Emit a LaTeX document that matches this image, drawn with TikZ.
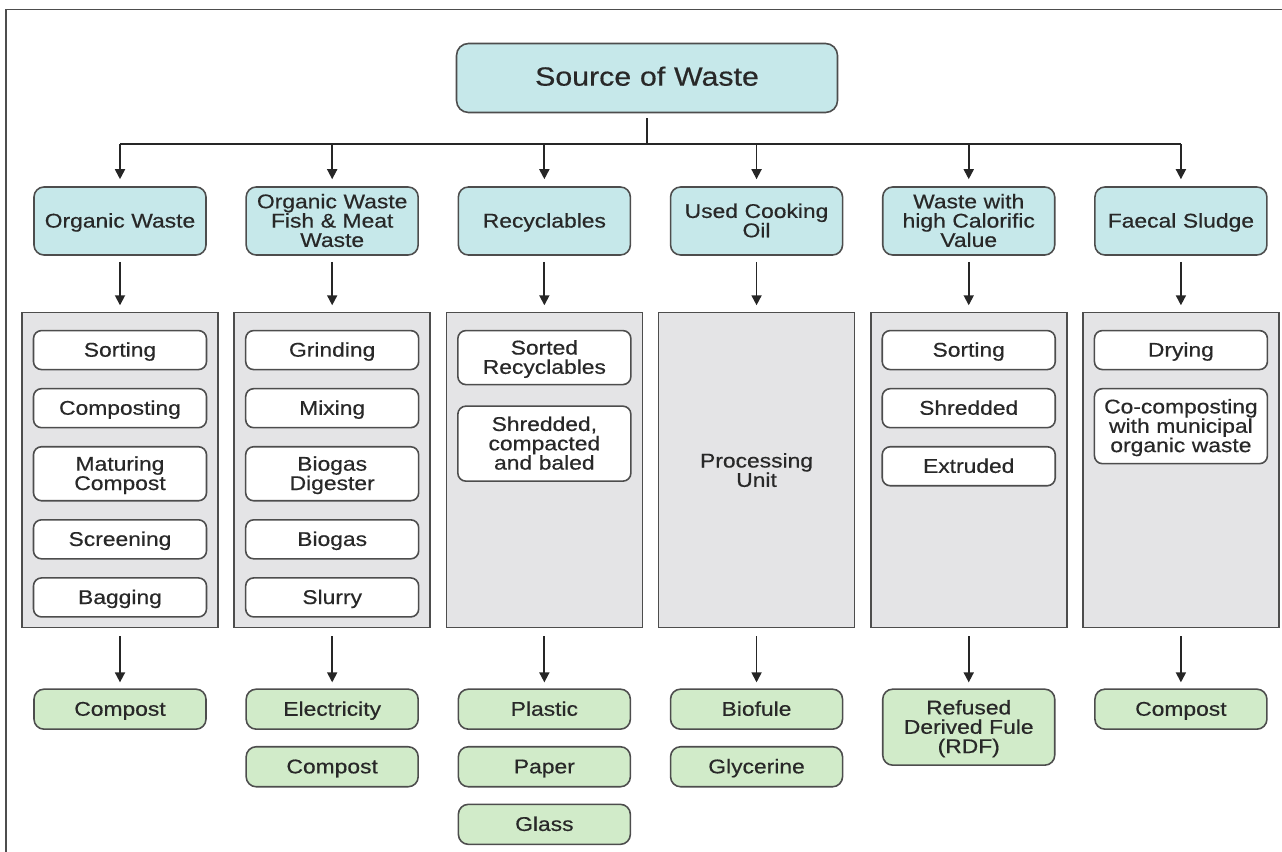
\documentclass[tikz,border=0pt]{standalone}
\usepackage{fontspec}
\setmainfont[FakeStretch=1.15,FakeBold=0.5]{Liberation Sans}
\usepackage{tikz}
\usetikzlibrary{positioning,arrows.meta,calc}
\definecolor{sourcecyan}{RGB}{198,232,234}
\definecolor{panelgray}{RGB}{228,228,230}
\definecolor{productgreen}{RGB}{209,235,201}
\definecolor{edgegray}{RGB}{77,77,77}
\definecolor{textgray}{RGB}{40,40,40}

\begin{document}
\begin{tikzpicture}[
  node distance=0.35cm and 0.772cm,
  every node/.style={font=\fontsize{11.3}{11}\selectfont,text=textgray},
  box/.style={draw=edgegray,line width=0.9pt,rounded corners=2mm,align=center,inner xsep=2pt,inner ysep=1pt,text width=3.44cm-4pt,
    execute at begin node={\rule{0pt}{10pt}},execute at end node={\rule[-2.5pt]{0pt}{2.5pt}}},
  category/.style={box,fill=sourcecyan,minimum height=1.36cm},
  stage/.style={box,fill=white,rounded corners=1.6mm,text width=3.46cm-4pt,minimum height=0.78cm},
  product/.style={box,fill=productgreen,minimum height=0.8cm},
  panel/.style={draw=edgegray,line width=0.9pt,fill=panelgray,minimum width=3.92cm,minimum height=6.30cm,align=center,inner sep=0pt},
  link/.style={line width=1pt,draw=black!85},
  arr/.style={link,-{Triangle[length=2mm,width=2mm]},shorten <=1.2mm,shorten >=1.3mm},
]
  \useasboundingbox (0,0) rectangle (25.64,-17.04);
  \draw[edgegray,line width=0.6pt] (0.12,-17.04) -- (0.12,-0.19) -- (25.64,-0.19);

  % source and waste streams
  \node[box,fill=sourcecyan,rounded corners=2.4mm,text width=7.62cm-4pt,minimum height=1.38cm,font=\fontsize{15}{16}\selectfont,
    execute at begin node={\rule{0pt}{12pt}},execute at end node={\rule[-3.3pt]{0pt}{3.3pt}}] (src) at (12.94,-1.56) {Source of Waste};
  \node[category] (c1) at (2.40,-4.42) {Organic Waste};
  \node[category,right=of c1] (c2) {Organic Waste\\Fish \& Meat\\Waste};
  \node[category,right=of c2] (c3) {Recyclables};
  \node[category,right=of c3] (c4) {Used Cooking\\Oil};
  \node[category,right=of c4] (c5) {Waste with\\high Calorific\\Value};
  \node[category,right=of c5] (c6) {Faecal Sludge};

  % processing panels
  \node[panel,below=1.12cm of c1] (p1) {};
  \node[panel,below=1.12cm of c2] (p2) {};
  \node[panel,below=1.12cm of c3] (p3) {};
  \node[panel,below=1.12cm of c4] (p4) {Processing\\Unit};
  \node[panel,below=1.12cm of c5] (p5) {};
  \node[panel,below=1.12cm of c6] (p6) {};

  \node[stage,below=0.36cm of p1.north] (s11) {Sorting};
  \node[stage,below=of s11] (s12) {Composting};
  \node[stage,below=of s12,minimum height=1.08cm] (s13) {Maturing\\Compost};
  \node[stage,below=of s13] (s14) {Screening};
  \node[stage,below=of s14] (s15) {Bagging};

  \node[stage,below=0.36cm of p2.north] (s21) {Grinding};
  \node[stage,below=of s21] (s22) {Mixing};
  \node[stage,below=of s22,minimum height=1.08cm] (s23) {Biogas\\Digester};
  \node[stage,below=of s23] (s24) {Biogas};
  \node[stage,below=of s24] (s25) {Slurry};

  \node[stage,below=0.36cm of p3.north,minimum height=1.08cm] (s31) {Sorted\\Recyclables};
  \node[stage,below=0.4cm of s31,minimum height=1.5cm] (s32) {Shredded,\\compacted\\and baled};

  \node[stage,below=0.36cm of p5.north] (s51) {Sorting};
  \node[stage,below=of s51] (s52) {Shredded};
  \node[stage,below=of s52] (s53) {Extruded};

  \node[stage,below=0.36cm of p6.north] (s61) {Drying};
  \node[stage,below=of s61,minimum height=1.5cm] (s62) {Co-composting\\with municipal\\organic waste};

  % products
  \node[product,below=1.2cm of p1] (o11) {Compost};
  \node[product,below=1.2cm of p2] (o21) {Electricity};
  \node[product,below=0.32cm of o21] (o22) {Compost};
  \node[product,below=1.2cm of p3] (o31) {Plastic};
  \node[product,below=0.32cm of o31] (o32) {Paper};
  \node[product,below=0.32cm of o32] (o33) {Glass};
  \node[product,below=1.2cm of p4] (o41) {Biofule};
  \node[product,below=0.32cm of o41] (o42) {Glycerine};
  \node[product,below=1.2cm of p5,minimum height=1.52cm] (o51) {Refused\\Derived Fule\\(RDF)};
  \node[product,below=1.2cm of p6] (o61) {Compost};

  % connectors
  \coordinate (bus) at ($(src.south)+(0,-0.62)$);
  \draw[link,shorten <=1mm] (src) -- (bus);
  \draw[link] (c1 |- bus) -- (c6 |- bus);
  \draw[arr,shorten <=0pt,shorten >=1.4mm] (c1 |- bus) -- (c1);
  \draw[arr,shorten <=0pt,shorten >=1.4mm] (c2 |- bus) -- (c2);
  \draw[arr,shorten <=0pt,shorten >=1.4mm] (c3 |- bus) -- (c3);
  \draw[arr,shorten <=0pt,shorten >=1.4mm] (c4 |- bus) -- (c4);
  \draw[arr,shorten <=0pt,shorten >=1.4mm] (c5 |- bus) -- (c5);
  \draw[arr,shorten <=0pt,shorten >=1.4mm] (c6 |- bus) -- (c6);

  \draw[arr] (c1) -- (p1);
  \draw[arr] (c2) -- (p2);
  \draw[arr] (c3) -- (p3);
  \draw[arr] (c4) -- (p4);
  \draw[arr] (c5) -- (p5);
  \draw[arr] (c6) -- (p6);

  \draw[arr,shorten <=1.6mm,shorten >=1.2mm] (p1) -- (o11);
  \draw[arr,shorten <=1.6mm,shorten >=1.2mm] (p2) -- (o21);
  \draw[arr,shorten <=1.6mm,shorten >=1.2mm] (p3) -- (o31);
  \draw[arr,shorten <=1.6mm,shorten >=1.2mm] (p4) -- (o41);
  \draw[arr,shorten <=1.6mm,shorten >=1.2mm] (p5) -- (o51);
  \draw[arr,shorten <=1.6mm,shorten >=1.2mm] (p6) -- (o61);
\end{tikzpicture}
\end{document}
